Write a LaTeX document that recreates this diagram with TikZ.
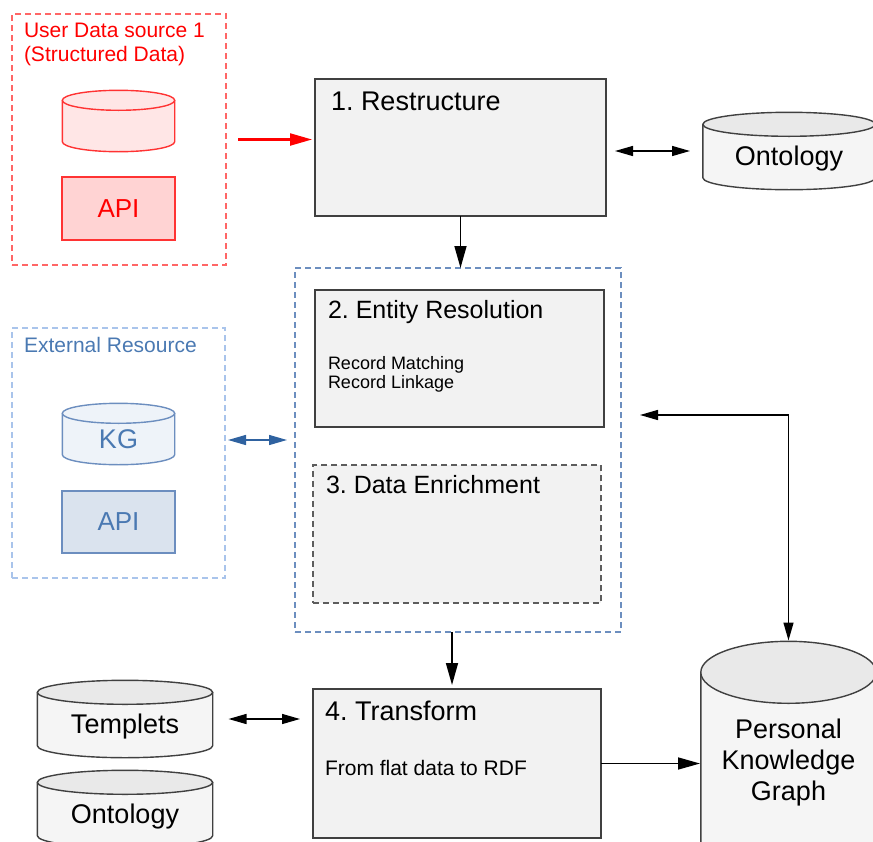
\documentclass[tikz,border=0pt]{standalone}
\usepackage{fontspec}
\setmainfont{Liberation Sans}
\usepackage{tikz}
\usetikzlibrary{arrows.meta,positioning,calc}
\definecolor{srcred}{HTML}{FF0000}
\definecolor{srcframe}{HTML}{FF6666}
\definecolor{srcline}{HTML}{FF3333}
\definecolor{srcfill}{HTML}{FFE6E6}
\definecolor{srcapi}{HTML}{FFD3D3}
\definecolor{extframe}{HTML}{A9C4EB}
\definecolor{exttext}{HTML}{4A79B2}
\definecolor{extline}{HTML}{6C8EBF}
\definecolor{extfill}{HTML}{EEF3F9}
\definecolor{extapi}{HTML}{DAE3EE}
\definecolor{extarrow}{HTML}{2F62A0}
\definecolor{stepfill}{HTML}{F2F2F2}
\definecolor{stepline}{HTML}{404040}
\definecolor{cylbody}{HTML}{F5F5F5}
\definecolor{cyltop}{HTML}{E9E9E9}

% drum outline, drawn inside the node's own box
\tikzset{drum line/.initial=stepline, drum body/.initial=cylbody, drum end/.initial=cyltop, drum ry/.initial=12pt}
\newcommand{\drumlet}{let \p1=(path picture bounding box.north west), \p2=(path picture bounding box.south east),
      \n1={0.5*(\x2-\x1)-0.8pt}, \n2={\pgfkeysvalueof{/tikz/drum ry}},
      \n3={\x1+0.8pt}, \n4={\x2-0.8pt}, \n5={\y1-0.8pt-\n2}, \n6={\y2+0.8pt+\n2}, \n7={0.5*(\x1+\x2)} in}
\newcommand{\drumoutline}{%
  \draw[line width=1.4pt, draw=\pgfkeysvalueof{/tikz/drum line}, fill=\pgfkeysvalueof{/tikz/drum body}]
    \drumlet (\n3,\n5) -- (\n3,\n6) arc[start angle=180, end angle=360, x radius=\n1, y radius=\n2] -- (\n4,\n5);
  \draw[line width=1.4pt, draw=\pgfkeysvalueof{/tikz/drum line}, fill=\pgfkeysvalueof{/tikz/drum end}]
    \drumlet (\n7,\n5) ellipse[x radius=\n1, y radius=\n2];
}

\begin{document}
\frenchspacing
\begin{tikzpicture}[
  x=1pt, y=-1pt,
  every node/.style={inner sep=0pt, outer sep=0pt},
  stepbox/.style={draw=stepline, fill=stepfill, line width=1.6pt, anchor=north west},
  frame/.style={dash pattern=on 6pt off 4pt, line width=1.3pt, anchor=north west},
  store/.style={anchor=north, path picture={\drumoutline},
    font=\fontsize{27}{31}\selectfont, text height=33pt, text depth=5pt},
  steptitle/.style={anchor=base west, font=\fontsize{25}{30}\selectfont},
  stepnote/.style={anchor=north west, align=left, font=\fontsize{18}{19}\selectfont},
  arr/.style={-{Triangle[length=22pt,width=12pt]}, line width=1.6pt},
  dbl/.style={{Triangle[length=18pt,width=10pt]}-{Triangle[length=18pt,width=10pt]}, line width=1.4pt},
]
\useasboundingbox (0,0) rectangle (873,841);

% User data source
\node[frame, draw=srcframe, minimum width=214, minimum height=251] (src) at (12,14) {};
\node[anchor=north west, align=left, text=srcred, font=\fontsize{21}{24}\selectfont] (srctitle) at (24,23.5) {User Data source 1\\(Structured Data)};
\node[store, drum line=srcline, drum body=srcfill, drum end=srcfill, drum ry=10pt,
  minimum width=114, minimum height=63] (srcdb) at (118.5,89.5) {};
\node[draw=srcline, fill=srcapi, line width=1.4pt, anchor=north west, minimum width=113, minimum height=63,
  text=srcred, font=\fontsize{26}{30}\selectfont] (srcapi) at (62,177) {API};

% External resource
\node[frame, draw=extframe, minimum width=213, minimum height=250] (ext) at (12,328) {};
\node[anchor=base west, text=exttext, font=\fontsize{21}{24}\selectfont] (exttitle) at (24,352) {External Resource};
\node[store, drum line=extline, drum body=extfill, drum end=extfill, drum ry=10pt, text=exttext,
  minimum width=114, minimum height=63] (kg) at (118.5,402.5) {KG};
\node[draw=extline, fill=extapi, line width=1.4pt, anchor=north west, minimum width=113, minimum height=62,
  text=exttext, font=\fontsize{26}{30}\selectfont] (extapi) at (62,491) {API};

% Steps
\node[stepbox, minimum width=291, minimum height=137] (restructure) at (315,79) {};
\node[steptitle, font=\fontsize{27}{31}\selectfont] (t1) at (331,110) {1. Restructure};

\node[frame, draw=extline, line width=1.1pt, minimum width=326, minimum height=364] (core) at (295,268) {};

\node[stepbox, minimum width=289, minimum height=137] (resolve) at (315,290) {};
\node[steptitle] (t2) at (328,318) {2. Entity Resolution};
\node[stepnote] (n2) at (328,356) {Record Matching\\Record Linkage};

\node[stepbox, draw=stepline!85, dash pattern=on 6pt off 4pt, minimum width=288, minimum height=138] (enrich) at (313,465) {};
\node[steptitle] (t3) at (326,493) {3. Data Enrichment};

\node[stepbox, minimum width=288, minimum height=149] (transform) at (313,689) {};
\node[steptitle, font=\fontsize{27}{31}\selectfont] (t4) at (325,720) {4. Transform};
\node[stepnote, font=\fontsize{21}{24}\selectfont] (n4) at (325,760.5) {From flat data to RDF};

% Stores
\node[store, minimum width=174, minimum height=79] (onto) at (789,111.5) {Ontology};
\node[store, minimum width=177, minimum height=79] (templets) at (125,679.5) {Templets};
\node[store, minimum width=177, minimum height=79] (ontolow) at (125,769.5) {Ontology};
\node[store, text height=, text depth=, align=center, drum ry=31pt, minimum width=177, minimum height=244]
  (pkg) at (788.5,640.5) {Personal\\Knowledge\\Graph};

% Connectors
\draw[arr, srcred, line width=2.2pt, shorten <=12pt, shorten >=3pt] (src.east) -- (src.east -| restructure.west);
\draw[arr] (restructure.south) -- (restructure.south |- core.north);
\draw[dbl, shorten <=9pt, shorten >=12pt] (restructure.east |- onto.west) -- (onto.west);
\draw[dbl, extarrow, shorten <=3pt, shorten >=8pt] ([yshift=-6pt]ext.east |- kg.east) -- ([yshift=-6pt]core.west |- kg.east);
\draw[arr, shorten >=4pt] ([xshift=-6pt]core.south) -- ([xshift=-6pt]core.south |- transform.north);
\draw[dbl, shorten <=15pt, shorten >=13pt] (templets.east) -- (templets.east -| transform.west);
\draw[arr] (transform.east) -- (transform.east -| pkg.west);
\draw[dbl, shorten >=19pt] (pkg.north) |- ([yshift=35pt]core.east);

\end{tikzpicture}
\end{document}
